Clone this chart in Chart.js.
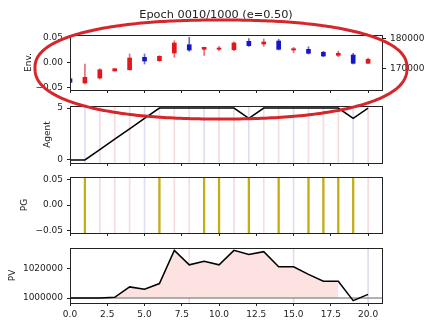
<!DOCTYPE html>
<html>
<head>
<meta charset="utf-8">
<script src="https://cdn.jsdelivr.net/npm/chart.js@4"></script>
<style>
  body { margin: 0; background: #fff; }
  #wrap { position: relative; width: 432px; height: 327px; }
  #wrap canvas { position: absolute; left: 0; top: 0; }
</style>
</head>
<body>
<div id="wrap">
  <canvas id="envChart" width="432" height="327"></canvas>
  <canvas id="agentChart" width="432" height="327"></canvas>
  <canvas id="pgChart" width="432" height="327"></canvas>
  <canvas id="pvChart" width="432" height="327"></canvas>
</div>
<script>
// ---------------- Data ----------------
const steps = [0, 1, 2, 3, 4, 5, 6, 7, 8, 9, 10, 11, 12, 13, 14, 15, 16, 17, 18, 19, 20];

const candleOpen  = [166700, 165300, 166940, 169250, 169670, 173750, 172630, 175170, 177900, 176380, 176400,
                     176250, 179000, 178130, 179110, 176150, 176380, 175400, 174410, 174510, 171780];
const candleHigh  = [166900, 171550, 170000, 170100, 174840, 174840, 174300, 179200, 180330, 177100, 177370,
                     178800, 179870, 179770, 179670, 177040, 177240, 175720, 175800, 175070, 173500];
const candleLow   = [165300, 165000, 166600, 169200, 169500, 171540, 172400, 173750, 175720, 174400, 175920,
                     175950, 177370, 177370, 176150, 175260, 174840, 173950, 173950, 171550, 171780];
const candleClose = [165500, 167170, 169670, 170000, 173520, 172530, 174080, 178460, 176150, 177040, 176800,
                     178460, 177570, 178780, 176380, 176580, 175070, 174180, 175070, 171780, 173090];

const agentPos = [0, 0, 1, 2, 3, 4, 5, 5, 5, 5, 5, 5, 4, 5, 5, 5, 5, 5, 5, 4, 5];

const pgSteps = [1, 6, 9, 10, 12, 14, 16, 17, 18, 19];

const pvValues = [1000000, 1000000, 1000000, 1000500, 1007600, 1006000, 1009900, 1032600, 1022700, 1025200, 1022700,
                  1032600, 1029700, 1031700, 1021300, 1021300, 1016200, 1011500, 1011500, 998200, 1002500];
const pvBase = 1000000;

// faint step markers: 'b' = blue side, 'r' = red side
const markSteps = [1, 2, 3, 4, 5, 6, 7, 8, 9, 10, 11, 12, 13, 14, 15, 16, 17, 18, 19, 20];
const markSide  = ['b', 'r', 'r', 'r', 'b', 'r', 'r', 'r', 'b', 'r', 'r', 'b', 'r', 'r', 'b', 'r', 'r', 'r', 'b', 'r'];
const pvMarkSteps = [8, 15, 20];
const pvMarkSide  = ['r', 'b', 'b'];

const xTicks = [0, 2.5, 5, 7.5, 10, 12.5, 15, 17.5, 20];
const envTicks = [-0.05, 0, 0.05];
const priceTicks = [170000, 180000];
const agentTicks = [0, 5];
const pgTicks = [-0.05, 0, 0.05];
const pvTicks = [1000000, 1020000];

const envRange = [-0.055, 0.055];
const priceRange = [163000, 181100];
const agentRange = [-0.3, 5.2];
const pgRange = [-0.055, 0.055];
const pvRange = [996600, 1034200];

// ---------------- Styles ----------------
const ink = '#222';
const tickFont = { family: 'DejaVu Sans', size: 9 };
const upColor = '#e3161c';
const downColor = '#1616c8';
const markColor = { r: '#f6dcdc', b: '#dedef2' };
const fmtSigned = v => (v < 0 ? '\u2212' : '') + Math.abs(v).toFixed(2);

// ---------------- Scales ----------------
function xScale(showLabels) {
    return {
        type: 'linear', min: 0, max: 21, offset: false,
        afterBuildTicks: s => { s.ticks = xTicks.map(v => ({ value: v })); },
        afterFit: s => { s.height = 20; },
        border: { display: false },
        grid: { drawOnChartArea: false, offset: false, tickLength: 3, color: ink },
        ticks: { display: showLabels, autoSkip: false, maxRotation: 0, font: tickFont, color: ink, padding: 3,
                 callback: v => v.toFixed(1) }
    };
}

function yScale(range, ticks, fmt, position = 'left', width = 70) {
    return {
        type: 'linear', position, min: range[0], max: range[1],
        afterBuildTicks: s => { s.ticks = ticks.map(v => ({ value: v })); },
        afterFit: s => { s.width = width; },
        border: { display: false },
        grid: { drawOnChartArea: false, tickLength: 3, color: ink },
        ticks: { autoSkip: false, font: tickFont, color: ink, padding: 4, callback: fmt }
    };
}

// frame around the plot area and the rotated axis label
const panelFrame = {
    id: 'panelFrame',
    afterDraw(chart, args, opts) {
        const { ctx, chartArea: a } = chart;
        ctx.save();
        ctx.strokeStyle = ink;
        ctx.lineWidth = 1;
        ctx.strokeRect(Math.round(a.left) + 0.5, Math.round(a.top) + 0.5,
                       Math.round(a.right - a.left) - 1, Math.round(a.bottom - a.top));
        ctx.translate(opts.labelX, (a.top + a.bottom) / 2);
        ctx.rotate(-Math.PI / 2);
        ctx.fillStyle = ink;
        ctx.font = '9px "DejaVu Sans"';
        ctx.textAlign = 'center';
        ctx.textBaseline = 'middle';
        ctx.fillText(opts.label, 0, 0);
        ctx.restore();
    }
};

// red hand-drawn style ring around the Env. panel
const highlightRing = {
    id: 'highlightRing',
    afterDraw(chart) {
        const ctx = chart.ctx;
        const cx = 221, cy = 68, rx = 186, n = 2.3;
        ctx.save();
        ctx.strokeStyle = '#d6262c';
        ctx.lineWidth = 3;
        ctx.beginPath();
        for (let k = 0; k <= 360; k++) {
            const t = k * Math.PI / 180;
            const c = Math.cos(t), s = Math.sin(t);
            const ry = s > 0 ? 51 : 48;
            const px = cx + rx * Math.sign(c) * Math.pow(Math.abs(c), 2 / n);
            const py = cy + ry * Math.sign(s) * Math.pow(Math.abs(s), 2 / n);
            if (k === 0) ctx.moveTo(px, py); else ctx.lineTo(px, py);
        }
        ctx.closePath();
        ctx.stroke();
        ctx.restore();
    }
};

function markBars(xs, sides, range) {
    return {
        type: 'bar', order: 9, grouped: false, barThickness: 1,
        data: xs.map(x => ({ x, y: range })),
        backgroundColor: sides.map(s => markColor[s])
    };
}

function baseOptions(padding, label, labelX) {
    return {
        responsive: false, animation: false,
        layout: { padding },
        plugins: { legend: { display: false }, tooltip: { enabled: false }, panelFrame: { label, labelX } }
    };
}

// ---------------- Env. (candles) ----------------
const isUp = steps.map((_, i) => candleClose[i] >= candleOpen[i]);
const candleColors = isUp.map(u => u ? upColor : downColor);

const envOpts = baseOptions({ top: 0, left: 0, right: 0, bottom: 217 }, 'Env.', 29);
envOpts.plugins.title = {
    display: true, text: 'Epoch 0010/1000 (e=0.50)', color: ink,
    font: { family: 'DejaVu Sans', size: 11.3, weight: 'normal' },
    padding: { top: 8, bottom: 13.4 }
};
envOpts.scales = {
    x: xScale(false),
    y: yScale(envRange, envTicks, fmtSigned),
    y1: yScale(priceRange, priceTicks, v => String(v), 'right', 49)
};

new Chart(document.getElementById('envChart'), {
    type: 'bar',
    data: {
        datasets: [
            { order: 0, yAxisID: 'y1', grouped: false, barThickness: 4,
              data: steps.map((x, i) => ({ x, y: [candleOpen[i], candleClose[i]] })),
              backgroundColor: candleColors },
            { order: 1, yAxisID: 'y1', grouped: false, barThickness: 1,
              data: steps.map((x, i) => ({ x, y: [candleLow[i], candleHigh[i]] })),
              backgroundColor: candleColors.map(c => c + 'a0') }
        ]
    },
    options: envOpts,
    plugins: [panelFrame]
});

// ---------------- Agent ----------------
const agentOpts = baseOptions({ top: 106, left: 0, right: 49, bottom: 144 }, 'Agent', 48);
agentOpts.scales = { x: xScale(false), y: yScale(agentRange, agentTicks, v => String(v)) };

new Chart(document.getElementById('agentChart'), {
    type: 'line',
    data: {
        datasets: [
            { order: 0, data: steps.map((x, i) => ({ x, y: agentPos[i] })),
              borderColor: '#000', borderWidth: 1.5, pointRadius: 0, tension: 0 },
            markBars(markSteps, markSide, agentRange)
        ]
    },
    options: agentOpts,
    plugins: [panelFrame, highlightRing]
});

// ---------------- PG ----------------
const pgOpts = baseOptions({ top: 177, left: 0, right: 49, bottom: 74 }, 'PG', 25);
pgOpts.scales = { x: xScale(false), y: yScale(pgRange, pgTicks, fmtSigned) };

new Chart(document.getElementById('pgChart'), {
    type: 'bar',
    data: {
        datasets: [
            { order: 0, grouped: false, barThickness: 1.6,
              data: pgSteps.map(x => ({ x, y: pgRange })),
              backgroundColor: '#c2ad12' },
            markBars(markSteps, markSide, pgRange)
        ]
    },
    options: pgOpts,
    plugins: [panelFrame]
});

// ---------------- PV ----------------
const pvOpts = baseOptions({ top: 248, left: 0, right: 49, bottom: 4 }, 'PV', 13);
pvOpts.scales = { x: xScale(true), y: yScale(pvRange, pvTicks, v => String(v)) };

new Chart(document.getElementById('pvChart'), {
    type: 'line',
    data: {
        datasets: [
            { order: 0, data: steps.map((x, i) => ({ x, y: pvValues[i] })),
              borderColor: '#000', borderWidth: 1.5, pointRadius: 0, tension: 0 },
            { order: 1, data: [{ x: 0, y: pvBase }, { x: 21, y: pvBase }],
              borderColor: '#666', borderWidth: 1, pointRadius: 0 },
            { order: 2, data: steps.map((x, i) => ({ x, y: pvValues[i] >= pvBase ? pvValues[i] : null })),
              borderWidth: 0, pointRadius: 0, spanGaps: false,
              fill: { value: pvBase }, backgroundColor: '#fde2e2' },
            markBars(pvMarkSteps, pvMarkSide, pvRange)
        ]
    },
    options: pvOpts,
    plugins: [panelFrame]
});
</script>
</body>
</html>
